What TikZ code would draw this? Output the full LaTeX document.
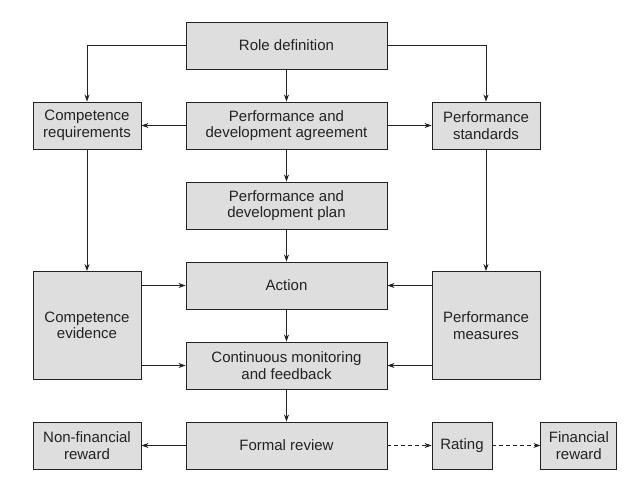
\documentclass[tikz,border=0pt]{standalone}
\usepackage{fontspec}
\setmainfont{Liberation Sans}
\usetikzlibrary{positioning,arrows.meta}
\definecolor{boxgrey}{RGB}{222,222,222}
\definecolor{inkgrey}{RGB}{35,35,35}
\tikzset{
>={Stealth[length=7pt,width=5pt]},
  greybox/.style={
    rectangle,
    fill=boxgrey,
    draw=inkgrey, line width=0.9pt,
    text=inkgrey,
    font=\fontsize{15}{16.5}\selectfont,
    align=center,
    minimum height=47pt,
    inner sep=2pt},
  wide/.style={greybox, minimum width=201pt},
  side/.style={greybox, minimum width=108pt},
  line/.style={draw=inkgrey, line width=0.8pt, ->},
  dline/.style={line, dash pattern=on 4pt off 3pt},
}

\begin{document}
\begin{tikzpicture}
  [x=1pt, y=-1pt,
  node distance=32.1pt and 44.1pt]
  \useasboundingbox (0,0) rectangle (643,492);
  % middle column
  \node[wide] (role) at (286.5,45.5) {Role definition};
  \node[wide, below=of role] (agree) {Performance and\\development agreement};
  \node[wide, below=of agree] (plan) {Performance and\\development plan};
  \node[wide, below=of plan] (action) {Action};
  \node[wide, below=of action] (monitor) {Continuous monitoring\\and feedback};
  \node[wide, below=of monitor] (review) {Formal review};
  % side columns
  \node[side, left=of agree] (compreq) {Competence\\requirements};
  \node[side, right=of agree] (perfstd) {Performance\\standards};
  \path (action) -- (monitor) coordinate[midway] (mid);
  \node[side, minimum height=108pt] (compevid) at (compreq |- mid) {Competence\\evidence};
  \node[side, minimum height=108pt] (perfmeas) at (perfstd |- mid) {Performance\\measures};
  % bottom row
  \node[side, left=of review] (nonfin) {Non-financial\\reward};
  \node[greybox, right=of review, minimum width=60pt] (rating) {Rating};
  \node[greybox, right=48pt of rating, minimum width=76pt] (finrew) {Financial\\reward};

  \draw[line] (role.west) -| (compreq.north);
  \draw[line] (role.east) -| (perfstd.north);
  \draw[line] (role) -- (agree);
  \draw[line] (agree) -- (compreq);
  \draw[line] (agree) -- (perfstd);
  \draw[line] (agree) -- (plan);
  \draw[line] (plan) -- (action);
  \draw[line] (compreq) -- (compevid);
  \draw[line] (perfstd) -- (perfmeas);
  \draw[line] (compevid.east |- action) -- (action.west);
  \draw[line] (compevid.east |- monitor) -- (monitor.west);
  \draw[line] (perfmeas.west |- action) -- (action.east);
  \draw[line] (perfmeas.west |- monitor) -- (monitor.east);
  \draw[line] (action) -- (monitor);
  \draw[line] (monitor) -- (review);
  \draw[line] (review) -- (nonfin);
  \draw[dline] (review) -- (rating);
  \draw[dline] (rating) -- (finrew);
\end{tikzpicture}
\end{document}
